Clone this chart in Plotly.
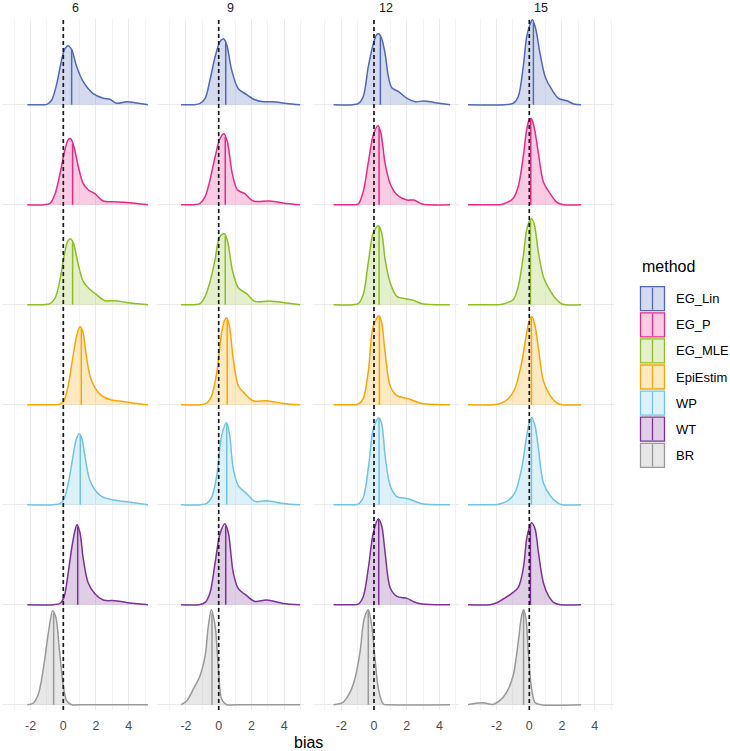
import numpy as np
import plotly.graph_objects as go

# ---------------- data ----------------
windows = ["6", "9", "12", "15"]
methods = ["EG_Lin", "EG_P", "EG_MLE", "EpiEstim", "WP", "WT", "BR"]
tick_vals = [-2, 0, 2, 4]
tick_text = ["-2", "0", "2", "4"]
ref_bias = 0

# density curves per window: x positions and heights (in ridge-row units)
eg_lin_x = [
    [-2.2, -1.3, -1.0, -0.71, -0.40, -0.1, 0.1, 0.3, 0.51, 0.82, 1.22, 1.83, 2.44, 2.85, 3.26, 3.87, 4.37, 5.18],
    [-2.3, -1.5, -1.14, -0.83, -0.53, -0.22, 0.08, 0.3, 0.49, 0.79, 1.2, 1.71, 2.11, 2.72, 3.33, 4.15, 4.98],
    [-2.47, -1.3, -0.97, -0.66, -0.35, -0.04, 0.16, 0.29, 0.47, 0.68, 0.88, 1.09, 1.5, 2.02, 2.53, 3.05, 3.66, 4.65],
    [-3.8, -1.5, -0.99, -0.68, -0.37, -0.16, 0.04, 0.19, 0.39, 0.66, 0.97, 1.38, 1.79, 2.3, 2.72, 3.17],
]
eg_lin_h = [
    [0, 0, 0.003, 0.047, 0.21, 0.45, 0.56, 0.59, 0.55, 0.38, 0.23, 0.11, 0.064, 0.054, 0.014, 0.03, 0.02, 0],
    [0, 0, 0.013, 0.063, 0.25, 0.48, 0.63, 0.66, 0.60, 0.35, 0.16, 0.10, 0.057, 0.03, 0.03, 0.013, 0],
    [0, 0, 0.01, 0.08, 0.38, 0.61, 0.70, 0.71, 0.66, 0.51, 0.28, 0.17, 0.13, 0.063, 0.03, 0.037, 0.023, 0],
    [0, 0, 0.013, 0.08, 0.38, 0.68, 0.80, 0.85, 0.76, 0.51, 0.28, 0.15, 0.063, 0.04, 0.007, 0],
]
eg_lin_median = [0.51, 0.43, 0.39, 0.25]

eg_p_x = [
    [-2.2, -1.2, -0.81, -0.5, -0.2, 0.1, 0.3, 0.45, 0.65, 0.92, 1.22, 1.52, 1.93, 2.44, 3.05, 3.87, 5.18],
    [-2.3, -1.5, -1.14, -0.83, -0.53, -0.22, 0.08, 0.32, 0.53, 0.83, 1.14, 1.6, 2.11, 3.13, 4.15, 4.98],
    [-2.47, -1.3, -0.97, -0.66, -0.35, -0.04, 0.25, 0.43, 0.68, 0.99, 1.4, 2.02, 2.43, 2.94, 4.65],
    [-3.8, -2.0, -1.6, -0.99, -0.68, -0.37, -0.16, 0.0, 0.12, 0.29, 0.56, 0.86, 1.28, 1.69, 2.1, 3.17],
]
eg_p_h = [
    [0, 0, 0.013, 0.11, 0.31, 0.55, 0.65, 0.66, 0.58, 0.38, 0.21, 0.15, 0.11, 0.037, 0.03, 0.023, 0],
    [0, 0, 0.013, 0.08, 0.25, 0.48, 0.66, 0.71, 0.63, 0.31, 0.15, 0.11, 0.037, 0.037, 0.013, 0],
    [0, 0, 0.005, 0.13, 0.42, 0.70, 0.79, 0.71, 0.41, 0.21, 0.10, 0.047, 0.047, 0.007, 0],
    [0, 0, 0.007, 0.063, 0.18, 0.48, 0.75, 0.85, 0.86, 0.78, 0.51, 0.23, 0.11, 0.023, 0, 0],
]
eg_p_median = [0.57, 0.40, 0.31, 0.09]

eg_mle_x = [
    [-2.2, -1.2, -0.81, -0.5, -0.2, 0.04, 0.26, 0.43, 0.61, 0.92, 1.22, 1.52, 2.03, 2.54, 3.15, 3.87, 5.18],
    [-2.3, -1.5, -1.14, -0.83, -0.53, -0.22, 0.04, 0.34, 0.55, 0.83, 1.2, 1.71, 2.22, 3.13, 4.15, 4.98],
    [-2.47, -1.3, -0.97, -0.66, -0.35, -0.04, 0.27, 0.47, 0.68, 0.99, 1.4, 2.02, 2.43, 2.94, 4.65],
    [-3.8, -2.0, -1.6, -0.99, -0.68, -0.37, -0.16, 0.0, 0.14, 0.31, 0.56, 0.86, 1.17, 1.58, 2.0, 3.17],
]
eg_mle_h = [
    [0, 0, 0.01, 0.067, 0.25, 0.48, 0.63, 0.66, 0.62, 0.40, 0.23, 0.17, 0.10, 0.04, 0.04, 0.023, 0],
    [0, 0, 0.01, 0.083, 0.23, 0.45, 0.67, 0.71, 0.63, 0.35, 0.17, 0.11, 0.033, 0.037, 0.017, 0],
    [0, 0, 0.01, 0.10, 0.42, 0.72, 0.79, 0.72, 0.45, 0.22, 0.083, 0.057, 0.043, 0.01, 0],
    [0, 0, 0.007, 0.05, 0.18, 0.48, 0.75, 0.83, 0.86, 0.80, 0.52, 0.28, 0.17, 0.067, 0.007, 0],
]
eg_mle_median = [0.57, 0.40, 0.31, 0.07]

epiestim_x = [
    [-2.2, -0.6, -0.2, 0.04, 0.3, 0.57, 0.82, 1.02, 1.18, 1.38, 1.63, 1.93, 2.34, 2.95, 3.67, 4.48, 5.18],
    [-2.3, -1.1, -0.73, -0.43, -0.12, 0.18, 0.35, 0.49, 0.65, 0.89, 1.2, 1.6, 2.11, 2.93, 3.94, 4.98],
    [-2.47, -1.3, -0.97, -0.66, -0.35, -0.04, 0.31, 0.47, 0.68, 0.99, 1.4, 2.02, 2.43, 2.94, 4.65],
    [-3.8, -2.2, -1.81, -1.3, -0.88, -0.47, -0.16, 0.0, 0.16, 0.35, 0.56, 0.86, 1.28, 1.69, 2.0, 3.17],
]
epiestim_h = [
    [0, 0, 0.007, 0.04, 0.19, 0.46, 0.69, 0.78, 0.74, 0.52, 0.29, 0.17, 0.09, 0.047, 0.033, 0.013, 0],
    [0, 0, 0.017, 0.09, 0.32, 0.72, 0.84, 0.87, 0.79, 0.46, 0.19, 0.11, 0.04, 0.04, 0.013, 0],
    [0, 0, 0.005, 0.06, 0.33, 0.79, 0.89, 0.82, 0.52, 0.19, 0.09, 0.063, 0.04, 0.013, 0],
    [0, 0, 0.01, 0.057, 0.16, 0.42, 0.72, 0.84, 0.88, 0.79, 0.56, 0.24, 0.09, 0.017, 0, 0],
]
epiestim_median = [1.10, 0.52, 0.33, 0.13]

wp_x = [
    [-2.2, -0.6, -0.2, 0.04, 0.3, 0.57, 0.77, 0.96, 1.12, 1.32, 1.59, 1.93, 2.34, 3.05, 3.87, 5.18],
    [-2.3, -1.1, -0.73, -0.43, -0.12, 0.18, 0.47, 0.65, 0.89, 1.2, 1.71, 2.22, 2.93, 3.94, 4.98],
    [-2.47, -1.3, -0.97, -0.66, -0.35, -0.04, 0.29, 0.47, 0.68, 0.99, 1.4, 2.02, 2.43, 2.94, 4.65],
    [-3.8, -2.2, -1.81, -1.3, -0.88, -0.47, -0.16, 0.0, 0.16, 0.35, 0.56, 0.86, 1.28, 1.69, 2.0, 3.17],
]
wp_h = [
    [0, 0, 0.01, 0.057, 0.21, 0.46, 0.64, 0.71, 0.67, 0.49, 0.26, 0.15, 0.083, 0.047, 0.03, 0],
    [0, 0, 0.013, 0.073, 0.29, 0.69, 0.82, 0.72, 0.36, 0.19, 0.11, 0.033, 0.04, 0.013, 0],
    [0, 0, 0.005, 0.07, 0.36, 0.76, 0.87, 0.81, 0.49, 0.19, 0.08, 0.063, 0.04, 0.01, 0],
    [0, 0, 0.007, 0.04, 0.12, 0.36, 0.69, 0.82, 0.87, 0.79, 0.56, 0.22, 0.09, 0.023, 0, 0],
]
wp_median = [1.04, 0.49, 0.31, 0.13]

wt_x = [
    [-2.2, -0.6, -0.2, 0.04, 0.3, 0.51, 0.71, 0.84, 1.02, 1.22, 1.52, 1.93, 2.44, 3.15, 3.87, 5.18],
    [-2.3, -1.2, -0.83, -0.53, -0.22, 0.08, 0.38, 0.59, 0.89, 1.2, 1.71, 2.22, 2.93, 3.94, 4.98],
    [-2.47, -1.3, -0.97, -0.66, -0.35, -0.04, 0.27, 0.47, 0.68, 0.99, 1.4, 2.02, 2.43, 2.94, 4.65],
    [-3.8, -2.4, -2.02, -1.6, -1.09, -0.68, -0.37, -0.16, 0.0, 0.14, 0.35, 0.56, 0.86, 1.17, 1.48, 1.9, 3.17],
]
wt_h = [
    [0, 0, 0.013, 0.073, 0.32, 0.56, 0.74, 0.80, 0.72, 0.46, 0.22, 0.11, 0.047, 0.04, 0.023, 0],
    [0, 0, 0.023, 0.12, 0.42, 0.71, 0.81, 0.72, 0.32, 0.16, 0.09, 0.033, 0.047, 0.013, 0],
    [0, 0, 0.005, 0.08, 0.36, 0.72, 0.86, 0.79, 0.52, 0.17, 0.083, 0.063, 0.03, 0.007, 0],
    [0, 0, 0.017, 0.057, 0.11, 0.17, 0.36, 0.66, 0.77, 0.82, 0.76, 0.52, 0.22, 0.09, 0.023, 0, 0],
]
wt_median = [0.88, 0.43, 0.29, 0.07]

br_x = [
    [-2.2, -1.83, -1.52, -1.22, -0.91, -0.65, -0.45, -0.24, 0.0, 0.2, 0.51, 1.0, 5.18],
    [-2.3, -1.95, -1.54, -1.14, -0.83, -0.63, -0.45, -0.22, -0.02, 0.18, 0.49, 1.0, 4.98],
    [-2.47, -1.9, -1.48, -1.17, -0.86, -0.6, -0.35, -0.14, 0.06, 0.27, 0.57, 1.0, 4.65],
    [-3.8, -3.35, -2.84, -2.22, -1.81, -1.4, -0.99, -0.68, -0.47, -0.35, -0.21, -0.06, 0.14, 0.35, 0.7, 3.17],
]
br_h = [
    [0, 0.017, 0.11, 0.36, 0.72, 0.94, 0.87, 0.55, 0.19, 0.04, 0, 0, 0],
    [0, 0.04, 0.16, 0.29, 0.49, 0.79, 0.95, 0.79, 0.36, 0.057, 0, 0, 0],
    [0, 0.023, 0.12, 0.26, 0.52, 0.86, 0.95, 0.79, 0.46, 0.16, 0.007, 0, 0],
    [0, 0.013, 0.02, 0.003, 0.04, 0.12, 0.29, 0.62, 0.89, 0.95, 0.87, 0.52, 0.16, 0.023, 0, 0],
]
br_median = [-0.59, -0.41, -0.35, -0.35]

curve_x = [eg_lin_x, eg_p_x, eg_mle_x, epiestim_x, wp_x, wt_x, br_x]
curve_h = [eg_lin_h, eg_p_h, eg_mle_h, epiestim_h, wp_h, wt_h, br_h]
medians = [eg_lin_median, eg_p_median, eg_mle_median, epiestim_median, wp_median, wt_median, br_median]

# ---------------- styling ----------------
colors = ["#5068B7", "#E7298A", "#8FBD24", "#F9A602", "#70C3E3", "#7B3294", "#999999"]
FILL_ALPHA = 0.24


def rgba(hex_color, a):
    h = hex_color.lstrip("#")
    r, g, b = int(h[0:2], 16), int(h[2:4], 16), int(h[4:6], 16)
    return f"rgba({r},{g},{b},{a})"


W, H = 730, 751
ZERO_PX = [63.3, 218.7, 374.0, 529.3]
PX_PER_UNIT = 16.35
X_RANGE = [-3.75, 5.2]
PANEL_TOP_PX, PANEL_BOTTOM_PX = 19, 710
Y_RANGE = [-0.053, 6.857]
ydom = [1 - PANEL_BOTTOM_PX / H, 1 - PANEL_TOP_PX / H]

fig = go.Figure()
layout = {}
n_methods = len(methods)

for ci, win in enumerate(windows):
    sfx = "" if ci == 0 else str(ci + 1)
    xa, ya = "x" + sfx, "y" + sfx
    left = (ZERO_PX[ci] + X_RANGE[0] * PX_PER_UNIT) / W
    right = (ZERO_PX[ci] + X_RANGE[1] * PX_PER_UNIT) / W
    layout["xaxis" + sfx] = dict(
        domain=[left, right], range=X_RANGE, anchor=ya,
        tickvals=tick_vals, ticktext=tick_text,
        showgrid=True, gridcolor="#ebebeb", gridwidth=1,
        minor=dict(tickvals=[-3, -1, 1, 3, 5], showgrid=True, gridcolor="#f3f3f3", gridwidth=1),
        zeroline=False, showline=False,
        ticks="outside", ticklen=4, tickcolor="rgba(0,0,0,0)",
        tickfont=dict(size=12.5, color="#4d4d4d"),
        automargin=False, fixedrange=True,
    )
    layout["yaxis" + sfx] = dict(
        domain=ydom, range=Y_RANGE, anchor=xa,
        tickvals=list(range(n_methods)), showticklabels=False,
        showgrid=True, gridcolor="#ebebeb", gridwidth=1.2,
        zeroline=False, showline=False, ticks="",
        automargin=False, fixedrange=True,
    )
    for mi, m in enumerate(methods):
        base = n_methods - 1 - mi
        xs = curve_x[mi][ci]
        hs = curve_h[mi][ci]
        col = colors[mi]
        fig.add_trace(go.Scatter(
            x=[xs[0], xs[-1]], y=[base, base], xaxis=xa, yaxis=ya,
            mode="lines", line=dict(width=0, color=col),
            showlegend=False, hoverinfo="skip"))
        fig.add_trace(go.Scatter(
            x=xs, y=[base + v for v in hs], xaxis=xa, yaxis=ya,
            mode="lines", fill="tonexty", fillcolor=rgba(col, FILL_ALPHA),
            line=dict(color=col, width=1.5, shape="spline", smoothing=0.9),
            name=m, showlegend=False, hoverinfo="skip"))
        med = medians[mi][ci]
        med_h = float(np.interp(med, xs, hs))
        fig.add_trace(go.Scatter(
            x=[med, med], y=[base, base + med_h], xaxis=xa, yaxis=ya,
            mode="lines", line=dict(color=col, width=1.5),
            showlegend=False, hoverinfo="skip"))
    # dashed reference line at zero bias
    fig.add_shape(type="line", xref=xa, yref=f"{ya} domain",
                  x0=ref_bias, x1=ref_bias, y0=0, y1=1,
                  line=dict(color="#1a1a1a", width=1.7, dash="4px,3px"), layer="above")
    # facet strip label
    fig.add_annotation(text=win, xref=f"{xa} domain", x=0.5, yref="paper", y=1 - 8 / H,
                       showarrow=False, font=dict(size=12.5, color="#1a1a1a"),
                       xanchor="center", yanchor="middle")

# x-axis title
fig.add_annotation(text="bias", xref="paper", x=308 / W, yref="paper", y=1 - 742 / H,
                   showarrow=False, font=dict(size=16, color="#000000"),
                   xanchor="center", yanchor="middle")

# manual legend (ggplot-style keys)
LEG_X0, LEG_KEY_W, LEG_KEY_H, LEG_STEP, LEG_TOP = 640.5, 24, 24, 26.1, 286.7
fig.add_annotation(text="method", xref="paper", x=LEG_X0 / W - 0.001, yref="paper", y=1 - 266 / H,
                   showarrow=False, font=dict(size=16, color="#000000"),
                   xanchor="left", yanchor="middle")
for mi, m in enumerate(methods):
    top = LEG_TOP + mi * LEG_STEP
    col = colors[mi]
    fig.add_shape(type="rect", xref="paper", yref="paper",
                  x0=LEG_X0 / W, x1=(LEG_X0 + LEG_KEY_W) / W,
                  y0=1 - (top + LEG_KEY_H) / H, y1=1 - top / H,
                  line=dict(color=col, width=1.3), fillcolor=rgba(col, FILL_ALPHA), layer="above")
    fig.add_shape(type="line", xref="paper", yref="paper",
                  x0=(LEG_X0 + LEG_KEY_W / 2) / W, x1=(LEG_X0 + LEG_KEY_W / 2) / W,
                  y0=1 - (top + LEG_KEY_H - 1) / H, y1=1 - (top + 1) / H,
                  line=dict(color=col, width=1.3), layer="above")
    fig.add_annotation(text=m, xref="paper", x=674 / W, yref="paper", y=1 - (top + LEG_KEY_H / 2) / H,
                       showarrow=False, font=dict(size=13, color="#000000"),
                       xanchor="left", yanchor="middle")

fig.update_layout(
    width=W, height=H,
    margin=dict(l=0, r=0, t=0, b=0),
    paper_bgcolor="white", plot_bgcolor="white",
    font=dict(family="Liberation Sans, Arial, sans-serif"),
    showlegend=False, hovermode=False,
    **layout,
)

fig.write_html("out.html",
               config={"displayModeBar": False, "staticPlot": True},
               post_script="document.body.style.margin='0';document.body.style.overflow='hidden';")
